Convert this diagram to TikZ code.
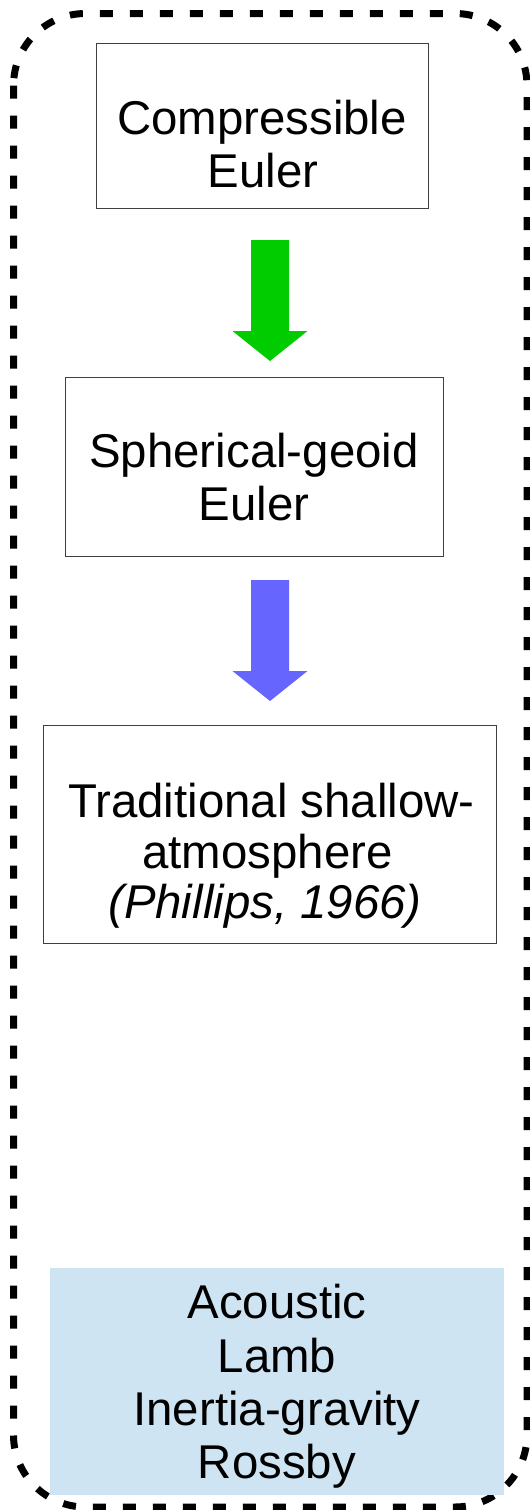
\documentclass[tikz,border=0pt]{standalone}
\usepackage{fontspec}
\setmainfont{Liberation Sans}
\begin{document}
\begin{tikzpicture}[x=1pt,y=-1pt,
  txt/.style={font=\fontsize{47.4}{53}\selectfont, inner sep=0pt, anchor=base},
  modelbox/.style={draw=black!75, line width=1pt, inner sep=0pt},
  wavebox/.style={fill=wavefill, draw=none, inner sep=0pt},
  frame/.style={line width=7pt, dash pattern=on 13pt off 17pt, rounded corners=72pt},
  downarrow/.pic={\fill (-19,0) -- (-19,91) -- (-37.5,91) -- (0,121) -- (37.5,91) -- (19,91) -- (19,0) -- cycle;}
]
\definecolor{wavefill}{HTML}{CFE4F2}
\definecolor{arrowgreen}{HTML}{00CC00}
\definecolor{arrowblue}{HTML}{6666FF}
\useasboundingbox (0,0) rectangle (530,1510);

% dashed enclosure
\draw[frame] (13.5,13.5) rectangle (527,1507);

% model hierarchy boxes
\node[modelbox, minimum width=332pt, minimum height=165pt] (euler) at (262,125.5) {};
\node[modelbox, minimum width=378pt, minimum height=179pt] (geoid) at (254,466.5) {};
\node[modelbox, minimum width=453pt, minimum height=218pt] (shallow) at (269.5,834) {};

% supported wave families
\node[wavebox, minimum width=454pt, minimum height=227pt] (waves) at (277,1381.5) {};

% box texts, one node per line placed on its baseline
\node[txt] (euler1) at (262,134) {Compressible};
\node[txt] (euler2) at (263,187) {Euler};
\node[txt] (geoid1) at (254,467) {Spherical-geoid};
\node[txt] (geoid2) at (254,520) {Euler};
\node[txt] (shallow1) at (271.5,817) {Traditional shallow-};
\node[txt] (shallow2) at (267.5,868) {atmosphere};
\node[txt] (shallow3) at (265,918) {\textit{(Phillips, 1966)}};
\node[txt] (waves1) at (277,1318) {Acoustic};
\node[txt] (waves2) at (277,1372) {Lamb};
\node[txt] (waves3) at (277,1425) {Inertia-gravity};
\node[txt] (waves4) at (277,1478) {Rossby};

% block arrows between the models
\coordinate (a1) at (270,240);
\coordinate (a2) at (270,580);
\pic[arrowgreen] at (a1) {downarrow};
\pic[arrowblue] at (a2) {downarrow};
\end{tikzpicture}
\end{document}
